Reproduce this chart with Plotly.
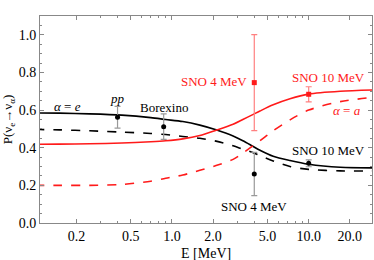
import math
import plotly.graph_objects as go

# Curve sample energies (MeV) and probabilities
energy = [0.1, 0.15, 0.25, 0.43, 0.7, 0.9, 1.2, 1.6, 2.1, 2.8, 3.3, 3.9, 4.4, 5.5, 7.3, 10, 17, 30]
p_ee_solid = [0.585, 0.584, 0.580, 0.573, 0.560, 0.550, 0.539, 0.520, 0.495, 0.462, 0.437, 0.408, 0.387, 0.355, 0.332, 0.312, 0.296, 0.293]
p_ea_solid = [0.418, 0.419, 0.421, 0.425, 0.432, 0.437, 0.447, 0.465, 0.493, 0.525, 0.550, 0.576, 0.595, 0.628, 0.660, 0.685, 0.700, 0.707]
p_ee_dash = [0.497, 0.495, 0.490, 0.483, 0.476, 0.470, 0.460, 0.450, 0.435, 0.410, 0.392, 0.375, 0.358, 0.330, 0.300, 0.285, 0.277, 0.277]
p_ea_dash = [0.200, 0.200, 0.200, 0.205, 0.222, 0.238, 0.255, 0.280, 0.305, 0.338, 0.372, 0.410, 0.437, 0.490, 0.548, 0.600, 0.645, 0.668]

# Measurements
black_E = [0.40, 0.87, 4.0, 10.0]
black_P = [0.562, 0.512, 0.260, 0.317]
black_err = [0.058, 0.068, 0.115, 0.018]
red_E = [4.0, 10.0]
red_P = [0.746, 0.684]
red_err = [0.255, 0.040]

xtick_vals = [0.2, 0.5, 1.0, 2.0, 5.0, 10.0, 20.0]
xtick_text = ["0.2", "0.5", "1.0", "2.0", "5.0", "10.0", "20.0"]
xminor_vals = [0.1, 0.3, 0.4, 0.6, 0.7, 0.8, 0.9, 3, 4, 6, 7, 8, 9, 30]
ytick_vals = [0.0, 0.2, 0.4, 0.6, 0.8, 1.0]
ytick_text = ["0.0", "0.2", "0.4", "0.6", "0.8", "1.0"]

FONT = "Liberation Serif, Times New Roman, serif"
RED = "#ff1a1a"

fig = go.Figure()
fig.add_trace(go.Scatter(x=energy, y=p_ee_solid, mode="lines", line=dict(color="black", width=1.6, shape="spline", smoothing=0.8)))
fig.add_trace(go.Scatter(x=energy, y=p_ee_dash, mode="lines", line=dict(color="black", width=1.6, dash="dash", shape="spline", smoothing=0.8)))
fig.add_trace(go.Scatter(x=energy, y=p_ea_solid, mode="lines", line=dict(color=RED, width=1.6, shape="spline", smoothing=0.8)))
fig.add_trace(go.Scatter(x=energy, y=p_ea_dash, mode="lines", line=dict(color=RED, width=1.6, dash="dash", shape="spline", smoothing=0.8)))

fig.add_trace(go.Scatter(x=black_E, y=black_P, mode="markers",
                         marker=dict(color="black", size=5, symbol="circle"),
                         error_y=dict(type="data", array=black_err, color="#999999", thickness=1.2, width=3)))
fig.add_trace(go.Scatter(x=red_E, y=red_P, mode="markers",
                         marker=dict(color=RED, size=5, symbol="square"),
                         error_y=dict(type="data", array=red_err, color="#ff8080", thickness=1.2, width=3)))


def ann(x, y, text, color="black", xanchor="center"):
    fig.add_annotation(x=math.log10(x), y=y, text=text, showarrow=False, xanchor=xanchor, yanchor="middle",
                       font=dict(family=FONT, size=13, color=color))


ann(0.172, 0.617, "<i>α</i> = <i>e</i>")
ann(0.40, 0.66, "<i>pp</i>")
ann(0.87, 0.612, "Borexino")
ann(3.65, 0.75, "SNO 4 MeV", color=RED, xanchor="right")
ann(13.9, 0.772, "SNO 10 MeV", color=RED)
ann(19.2, 0.60, "<i>α</i> = <i>a</i>", color=RED)
ann(13.9, 0.383, "SNO 10 MeV")
ann(4.0, 0.087, "SNO 4 MeV")

# x-axis title placed in the bottom margin
fig.add_annotation(xref="paper", yref="paper", x=0.5, y=-0.148, text="E [MeV]", showarrow=False,
                   xanchor="center", yanchor="middle", font=dict(family=FONT, size=14, color="black"))

axis_common = dict(showline=True, linecolor="#888888", linewidth=1, mirror="ticks", ticks="inside",
                   tickcolor="#888888", ticklen=4, showgrid=False, zeroline=False, automargin=False,
                   tickfont=dict(family=FONT, size=14, color="black"))

fig.update_xaxes(type="log", range=[-0.965, 1.463], tickmode="array", tickvals=xtick_vals, ticktext=xtick_text,
                 minor=dict(tickmode="array", tickvals=xminor_vals, ticks="inside", ticklen=2, tickcolor="#888888"),
                 **axis_common)
fig.update_yaxes(range=[0, 1.1], tickmode="array", tickvals=ytick_vals, ticktext=ytick_text,
                 minor=dict(dtick=0.05, tick0=0, ticks="inside", ticklen=2, tickcolor="#888888"),
                 title=dict(text="P(ν<sub>e</sub>→ν<sub>α</sub>)", font=dict(family=FONT, size=13, color="black"), standoff=3),
                 **axis_common)

fig.update_layout(width=374, height=260, margin=dict(l=40, r=2, t=16, b=37),
                  paper_bgcolor="white", plot_bgcolor="white", showlegend=False)
fig.write_html("out.html", config={"displayModeBar": False},
               post_script="document.body.style.margin='0';document.body.style.overflow='hidden';")
